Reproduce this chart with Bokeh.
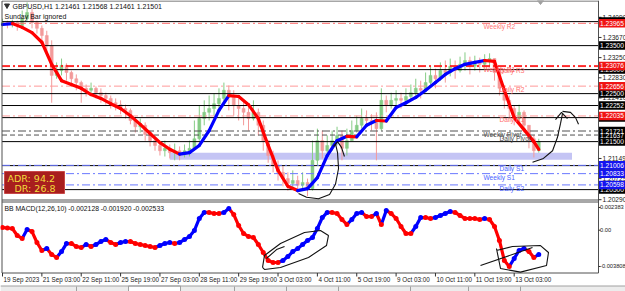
import numpy as np
from bokeh.plotting import figure
from bokeh.models import Range1d, ColumnDataSource
from bokeh.core.properties import value
from bokeh.embed import file_html
from bokeh.resources import INLINE

# ---------------- chart data ----------------
title_text = "GBPUSD,H1  1.21461 1.21568 1.21461 1.21501"
subtitle_text = "Sunday Bar ignored"
macd_text = "BB MACD(12,26,10) -0.002128 -0.001920 -0.002533"

candle_step = 4          # H1 bars per drawn candle
first_open = 1.2392
close = [1.2398, 1.2394, 1.2398, 1.2392, 1.2406, 1.2419, 1.2398, 1.2386, 1.2371, 1.2350,
         1.2288, 1.2298, 1.2309, 1.2294, 1.2281, 1.2273, 1.2261, 1.2257, 1.2261, 1.2252,
         1.2246, 1.2240, 1.2231, 1.2227, 1.2219, 1.2215, 1.2194, 1.2181, 1.2184, 1.2165,
         1.2152, 1.2142, 1.2131, 1.2136, 1.2127, 1.2131, 1.2123, 1.2131, 1.2136, 1.2156,
         1.2198, 1.2211, 1.2219, 1.2229, 1.2240, 1.2257, 1.2246, 1.2225, 1.2219, 1.2211,
         1.2198, 1.2211, 1.2184, 1.2152, 1.2121, 1.2100, 1.2086, 1.2073, 1.2063, 1.2069,
         1.2059, 1.2065, 1.2052, 1.2111, 1.2152, 1.2131, 1.2142, 1.2152, 1.2163, 1.2136,
         1.2152, 1.2173, 1.2184, 1.2198, 1.2194, 1.2190, 1.2177, 1.2236, 1.2225, 1.2236,
         1.2240, 1.2236, 1.2244, 1.2252, 1.2261, 1.2257, 1.2273, 1.2288, 1.2281, 1.2298,
         1.2294, 1.2307, 1.2298, 1.2311, 1.2319, 1.2307, 1.2315, 1.2311, 1.2319, 1.2323,
         1.2294, 1.2261, 1.2236, 1.2219, 1.2198, 1.2211, 1.2184, 1.2156, 1.2131, 1.2150]
high = [1.2406, 1.2402, 1.2404, 1.2402, 1.2423, 1.2440, 1.2427, 1.2402, 1.2392, 1.2381,
        1.2361, 1.2315, 1.2323, 1.2313, 1.2298, 1.2290, 1.2277, 1.2269, 1.2273, 1.2265,
        1.2261, 1.2252, 1.2246, 1.2240, 1.2236, 1.2227, 1.2219, 1.2202, 1.2198, 1.2190,
        1.2173, 1.2156, 1.2148, 1.2152, 1.2144, 1.2146, 1.2140, 1.2144, 1.2152, 1.2194,
        1.2225, 1.2236, 1.2246, 1.2250, 1.2261, 1.2273, 1.2267, 1.2257, 1.2240, 1.2236,
        1.2225, 1.2236, 1.2219, 1.2194, 1.2152, 1.2131, 1.2111, 1.2100, 1.2086, 1.2090,
        1.2079, 1.2086, 1.2073, 1.2152, 1.2177, 1.2173, 1.2163, 1.2173, 1.2181, 1.2173,
        1.2177, 1.2194, 1.2204, 1.2219, 1.2215, 1.2207, 1.2211, 1.2261, 1.2246, 1.2252,
        1.2257, 1.2252, 1.2261, 1.2269, 1.2281, 1.2277, 1.2294, 1.2307, 1.2302, 1.2315,
        1.2319, 1.2323, 1.2319, 1.2327, 1.2336, 1.2327, 1.2329, 1.2325, 1.2332, 1.2334,
        1.2323, 1.2302, 1.2267, 1.2246, 1.2225, 1.2227, 1.2215, 1.2184, 1.2163, 1.2156]
low = [1.2390, 1.2386, 1.2388, 1.2381, 1.2390, 1.2402, 1.2386, 1.2375, 1.2361, 1.2336,
       1.2231, 1.2281, 1.2288, 1.2277, 1.2269, 1.2257, 1.2231, 1.2244, 1.2246, 1.2240,
       1.2231, 1.2227, 1.2219, 1.2215, 1.2207, 1.2198, 1.2186, 1.2169, 1.2169, 1.2152,
       1.2140, 1.2131, 1.2121, 1.2119, 1.2115, 1.2111, 1.2111, 1.2117, 1.2119, 1.2131,
       1.2152, 1.2184, 1.2194, 1.2204, 1.2215, 1.2225, 1.2215, 1.2204, 1.2194, 1.2184,
       1.2173, 1.2194, 1.2163, 1.2131, 1.2106, 1.2086, 1.2069, 1.2057, 1.2048, 1.2052,
       1.2044, 1.2048, 1.2036, 1.2048, 1.2100, 1.2115, 1.2121, 1.2131, 1.2142, 1.2111,
       1.2121, 1.2152, 1.2169, 1.2177, 1.2184, 1.2173, 1.2111, 1.2173, 1.2211, 1.2219,
       1.2225, 1.2219, 1.2227, 1.2236, 1.2244, 1.2240, 1.2252, 1.2269, 1.2261, 1.2277,
       1.2273, 1.2286, 1.2281, 1.2294, 1.2298, 1.2290, 1.2298, 1.2294, 1.2302, 1.2307,
       1.2277, 1.2246, 1.2219, 1.2198, 1.2184, 1.2186, 1.2169, 1.2136, 1.2117, 1.2127]

ma_step = 8
ma_last_bar = 436
ma_value = [1.2394, 1.2396, 1.2388, 1.2377, 1.2357, 1.2311, 1.2277, 1.2269, 1.2261, 1.2248,
            1.2240, 1.2229, 1.2219, 1.2204, 1.2186, 1.2167, 1.2148, 1.2134, 1.2124, 1.2127,
            1.2142, 1.2173, 1.2215, 1.2246, 1.2244, 1.2227, 1.2198, 1.2142, 1.2090, 1.2057,
            1.2048, 1.2052, 1.2075, 1.2121, 1.2152, 1.2161, 1.2160, 1.2184, 1.2194, 1.2193,
            1.2221, 1.2231, 1.2242, 1.2257, 1.2273, 1.2290, 1.2302, 1.2311, 1.2315, 1.2319,
            1.2317, 1.2257, 1.2200, 1.2175, 1.2150, 1.2134]

macd_value = [0.00028, 0.00023, 0.00018, -0.00056, -0.00087, 0.00007, -0.00014, -0.00129, -0.00213, -0.00192,
              -0.00255, -0.00286, -0.00224, -0.00140, -0.00140, -0.00171, -0.00182, -0.00150, -0.00171, -0.00150,
              -0.00119, -0.00098, -0.00129, -0.00150, -0.00129, -0.00119, -0.00119, -0.00140, -0.00150, -0.00161,
              -0.00171, -0.00182, -0.00161, -0.00140, -0.00129, -0.00140, -0.00129, -0.00098, -0.00066, -0.00003,
              0.00123, 0.00186, 0.00186, 0.00175, 0.00175, 0.00186, 0.00228, 0.00165, 0.00049, -0.00035,
              -0.00066, -0.00077, -0.00150, -0.00234, -0.00318, -0.00339, -0.00339, -0.00318, -0.00276, -0.00224,
              -0.00192, -0.00150, -0.00108, -0.00077, 0.00018, 0.00133, 0.00186, 0.00186, 0.00175, 0.00112,
              0.00060, 0.00112, 0.00175, 0.00186, 0.00144, 0.00144, 0.00175, 0.00060, 0.00207, 0.00175,
              0.00123, 0.00039, -0.00035, -0.00035, 0.00039, 0.00133, 0.00133, 0.00123, 0.00133, 0.00154,
              0.00175, 0.00196, 0.00186, 0.00154, 0.00123, 0.00123, 0.00123, 0.00112, 0.00123, 0.00112,
              0.00039, -0.00108, -0.00318, -0.00381, -0.00297, -0.00213, -0.00192, -0.00224, -0.00286, -0.00255]
macd_ticks = [0.002383, 0.0, -0.003808]
macd_tick_labels = ["0.002383", "0.00", "-0.003808"]

date_step = 32
date_labels = ["19 Sep 2023", "21 Sep 03:00", "22 Sep 11:00", "25 Sep 19:00", "27 Sep 03:00",
               "28 Sep 11:00", "29 Sep 19:00", "3 Oct 03:00", "4 Oct 11:00", "5 Oct 19:00",
               "9 Oct 03:00", "10 Oct 11:00", "11 Oct 19:00", "13 Oct 03:00"]

price_ticks = [1.24090, 1.23670, 1.23250, 1.22830, 1.22410, 1.21990, 1.21570, 1.21149, 1.20729, 1.20290]
round_levels = [1.2400, 1.2350, 1.2300, 1.2250, 1.22252, 1.2200, 1.2150, 1.2100, 1.2050]
pivot_names = ["Weekly R2", "Daily R3", "Weekly R1", "Daily R2", "Daily R1",
               "Weekly Pivot", "Daily Pivot", "Daily S1", "Weekly S1", "Daily S2"]
pivot_values = [1.23965, 1.23062, 1.23076, 1.22656, 1.22035,
                1.21721, 1.21637, 1.21006, 1.20833, 1.20598]
adr_value = 94.2
dr_value = 26.8
zone_bottom, zone_top = 1.2112, 1.2127
zone_start_bar, zone_end_bar = 136, 463

# ---------------- geometry (pixel layout of the terminal window) ----------------
W, H = 625, 291
PXB, X0 = 1.23, 2.0          # px per H1 bar, px of first bar
PTOP, PPP = 1.2444, 4800.0   # price at top edge, px per price unit
MZ, MPP = 229.7, 9530.0      # px of MACD zero, px per MACD unit


def bx(px):
    return (px - X0) / PXB


def py(px):
    return PTOP - px / PPP


def my(px):
    return (MZ - px) / MPP


p = figure(width=W, height=H, x_range=Range1d(bx(0), bx(W)), y_range=Range1d(py(H), py(0)),
           x_axis_location=None, y_axis_location=None, toolbar_location=None,
           output_backend="svg", min_border=0, outline_line_color=None)
p.xgrid.visible = False
p.ygrid.visible = False
p.background_fill_color = "white"
p.border_fill_color = "white"
p.extra_y_ranges = {"macd": Range1d(my(H), my(0))}

FONT = "Liberation Sans"


def texts(xs, ys, ts, size="7px", color="#000000", align="left", baseline="middle",
          font=FONT, rng=None, x_offset=0, style="normal"):
    src = ColumnDataSource(dict(x=list(xs), y=list(ys), t=list(ts)))
    kw = {"y_range_name": rng} if rng else {}
    p.text(x="x", y="y", text="t", source=src, text_font=value(font), text_font_size=size,
           text_color=color, text_align=align, text_baseline=baseline, x_offset=x_offset,
           text_font_style=style, **kw)


# support/resistance zone
p.quad(left=[zone_start_bar], right=[zone_end_bar], bottom=[zone_bottom], top=[zone_top],
       fill_color="#c4c4f4", line_color=None)

# candles
cb = list(np.arange(len(close)) * candle_step)
opens = [first_open] + close[:-1]
ccol = ["#86cc86" if c >= o else "#f39a9a" for o, c in zip(opens, close)]
p.segment(x0=cb, y0=high, x1=cb, y1=low, line_color=ccol, line_width=1)
p.vbar(x=cb, width=2.4, top=[max(o, c) for o, c in zip(opens, close)],
       bottom=[min(o, c) for o, c in zip(opens, close)], fill_color=ccol, line_color=ccol,
       line_width=0.5)

# round-number levels
xl, xr = bx(1.5), bx(598)
p.segment(x0=[xl] * len(round_levels), x1=[xr] * len(round_levels), y0=round_levels,
          y1=round_levels, line_color="#000000", line_width=1)

# pivot levels
pstyle = {
    "Weekly R2": ("#ff6a6a", "8 3 2 3", 1.0, "#ff7a7a"),
    "Weekly R1": ("#ff0000", "8 3 2 3", 1.6, "#ff6060"),
    "Daily R3": ("#ff9a9a", "8 3 2 3", 1.0, "#ff7070"),
    "Daily R2": ("#ff9a9a", "8 3 2 3", 1.0, "#ff7070"),
    "Daily R1": ("#ff9a9a", "8 3 2 3", 1.0, "#ff7070"),
    "Weekly Pivot": ("#505050", "8 3 2 3", 1.0, "#505050"),
    "Daily Pivot": ("#505050", "5 3", 1.0, "#505050"),
    "Daily S1": ("#6a78ff", "8 3 2 3", 1.0, "#4a64ff"),
    "Weekly S1": ("#6a78ff", "8 3 2 3", 1.0, "#4a64ff"),
    "Daily S2": ("#6a78ff", "8 3 2 3", 1.0, "#4a64ff"),
}
for name, val in zip(pivot_names, pivot_values):
    col, dash, lw, tcol = pstyle[name]
    p.segment(x0=[xl], x1=[xr], y0=[val], y1=[val], line_color=col, line_dash=dash, line_width=lw)

# moving average (blue rising, red falling)
mb = list(range(0, ma_step * (len(ma_value) - 1), ma_step)) + [ma_last_bar]
mcol = ["#0000ff" if b > a else "#ff0000" for a, b in zip(ma_value[:-1], ma_value[1:])]
p.segment(x0=mb[:-1], y0=ma_value[:-1], x1=mb[1:], y1=ma_value[1:], line_color=mcol,
          line_width=3.2, line_cap="round")

# pivot labels
for name, val in zip(pivot_names, pivot_values):
    tcol = pstyle[name][3]
    xpx = 483 if name.startswith("Weekly") else 499
    texts([bx(xpx)], [val], [name], size="6.6px", color=tcol, baseline="top")

# panel frames
FR = "#505050"
p.segment(x0=[bx(1.5), bx(1.5), bx(1.5), bx(1.5), bx(1.5), bx(598)],
          y0=[py(0.5), py(199.5), py(201.5), py(272.5), py(0.5), py(0)],
          x1=[bx(598), bx(598), bx(598), bx(598), bx(1.5), bx(598)],
          y1=[py(0.5), py(199.5), py(201.5), py(272.5), py(272.5), py(272.5)],
          line_color=FR, line_width=1)

# price axis ticks
p.segment(x0=[bx(598)] * len(price_ticks), x1=[bx(601)] * len(price_ticks), y0=price_ticks,
          y1=price_ticks, line_color="#303030")
texts([bx(602)] * len(price_ticks), price_ticks, ["%.5f" % v for v in price_ticks],
      size="6.6px", color="#202020")


# price boxes
def boxes(vals, fill):
    n = len(vals)
    p.rect(x=[bx(611.5)] * n, y=vals, width=26, height=8.5, width_units="screen",
           height_units="screen", fill_color=fill, line_color=None)
    texts([bx(611.5)] * n, vals, ["%.5f" % v for v in vals], size="6.6px", color="white",
          align="center")


boxes(round_levels, "#000000")
boxes([v for n_, v in zip(pivot_names, pivot_values) if "Pivot" in n_], "#000000")
boxes([v for n_, v in zip(pivot_names, pivot_values) if "R" in n_.split()[1] and n_ != "Daily R3"],
      "#f01414")
boxes([v for n_, v in zip(pivot_names, pivot_values) if "S" in n_.split()[1]], "#1414f0")

# MACD: thick dotted trace, blue rising / red falling
mxb = list(np.arange(len(macd_value)) * candle_step)
scol = ["#0000ff" if b > a else "#ff0000" for a, b in zip(macd_value[:-1], macd_value[1:])]
dcol = ["#ff0000"] + scol
p.segment(x0=mxb[:-1], y0=macd_value[:-1], x1=mxb[1:], y1=macd_value[1:], y_range_name="macd",
          line_color=scol, line_width=3.2, line_cap="round")
p.scatter(x=mxb, y=macd_value, y_range_name="macd", marker="circle", size=5.0,
          fill_color=dcol, line_color=None)
p.segment(x0=[bx(598)] * 3, x1=[bx(600)] * 3, y0=macd_ticks, y1=macd_ticks,
          y_range_name="macd", line_color="#303030")
texts([bx(599.5)] * 3, macd_ticks, macd_tick_labels, size="5.7px", color="#202020", rng="macd")

# date axis
db = [i * date_step for i in range(len(date_labels))]
p.segment(x0=db, x1=db, y0=[py(272.5)] * len(db), y1=[py(276)] * len(db), line_color="#303030")
texts(db, [py(279)] * len(db), date_labels, size="6.3px", color="#202020", x_offset=1)

# titles
p.patch(x=[bx(4), bx(9), bx(6.5)], y=[py(3.5), py(3.5), py(8)], color="#303030")
texts([bx(12)], [py(6)], [title_text], size="7px", color="#101010")
texts([bx(4)], [py(15.5)], [subtitle_text], size="7px", color="#101010")
texts([bx(4)], [my(208)], [macd_text], size="6.8px", color="#101010", rng="macd")
p.patch(x=[bx(537), bx(543), bx(540)], y=[py(0), py(0), py(4)], color="#a0a0a0")

# ADR box
p.quad(left=[bx(4)], right=[bx(64)], top=[py(171)], bottom=[py(193)], fill_color="#a81e1e",
       line_color="#c84848", line_width=1)
texts([bx(7)], [py(177.5)], ["ADR: %.1f" % adr_value], size="9.5px", color="#f2dc3c",
      font="DejaVu Sans")
texts([bx(14)], [py(187.5)], ["DR: %.1f" % dr_value], size="9.5px", color="#f2dc3c",
      font="DejaVu Sans")

# hand-drawn annotations (bar, price) / (bar, macd)
ann_price = [
    ([240.7, 247.2, 256.9, 265.9, 270.7, 273.2, 272.4, 270.7],
     [1.2042, 1.2034, 1.2031, 1.2040, 1.2061, 1.2094, 1.2127, 1.2146]),
    ([269.1, 272.4, 275.6, 278.0], [1.2140, 1.2150, 1.2138, 1.2119]),
    ([430.9, 439.8, 447.2, 451.2, 453.7, 455.3], [1.2107, 1.2115, 1.2131, 1.2159, 1.2188, 1.2209]),
    ([449.6, 454.5, 459.3], [1.2196, 1.2211, 1.2198]),
    ([455.3, 461.8, 465.9, 468.3], [1.2213, 1.2211, 1.2200, 1.2186]),
]
for xs, ys in ann_price:
    p.line(xs, ys, line_color="#111111", line_width=1.1)
ann_macd = [
    ([211.4, 213, 226, 245.5, 258.5, 265, 263.4, 248.8, 226, 213, 211.4],
     [-0.00391, -0.00265, -0.0014, -0.00024, -0.00003, -0.00056, -0.00161, -0.00286, -0.00391,
      -0.00412, -0.00391]),
    ([214.6, 222.8, 229.3], [-0.00297, -0.00203, -0.00171]),
    ([401.6, 404.9, 421.1, 442.3, 443.9, 437.4, 414.6, 401.6],
     [-0.00192, -0.00402, -0.00440, -0.0037, -0.00234, -0.00161, -0.00171, -0.00213]),
    ([388.6, 430.9], [-0.0037, -0.00182]),
]
for xs, ys in ann_macd:
    p.line(xs, ys, y_range_name="macd", line_color="#111111", line_width=1.1)

# tab bar
p.quad(left=[bx(0)], right=[bx(W)], top=[py(285.5)], bottom=[py(H)], fill_color="#ececec",
       line_color=None)
p.quad(left=[bx(128)], right=[bx(180)], top=[py(285.5)], bottom=[py(H)], fill_color="#ffffff",
       line_color="#9a9a9a")
seps = [76, 128, 180, 234, 286, 338, 410, 468, 520]
p.segment(x0=[bx(s) for s in seps], x1=[bx(s) for s in seps], y0=[py(286)] * len(seps),
          y1=[py(H)] * len(seps), line_color="#a0a0a0")
p.segment(x0=[bx(0)], x1=[bx(W)], y0=[py(285.5)], y1=[py(285.5)], line_color="#a0a0a0")

open("out.html", "w").write(file_html(p, INLINE))
